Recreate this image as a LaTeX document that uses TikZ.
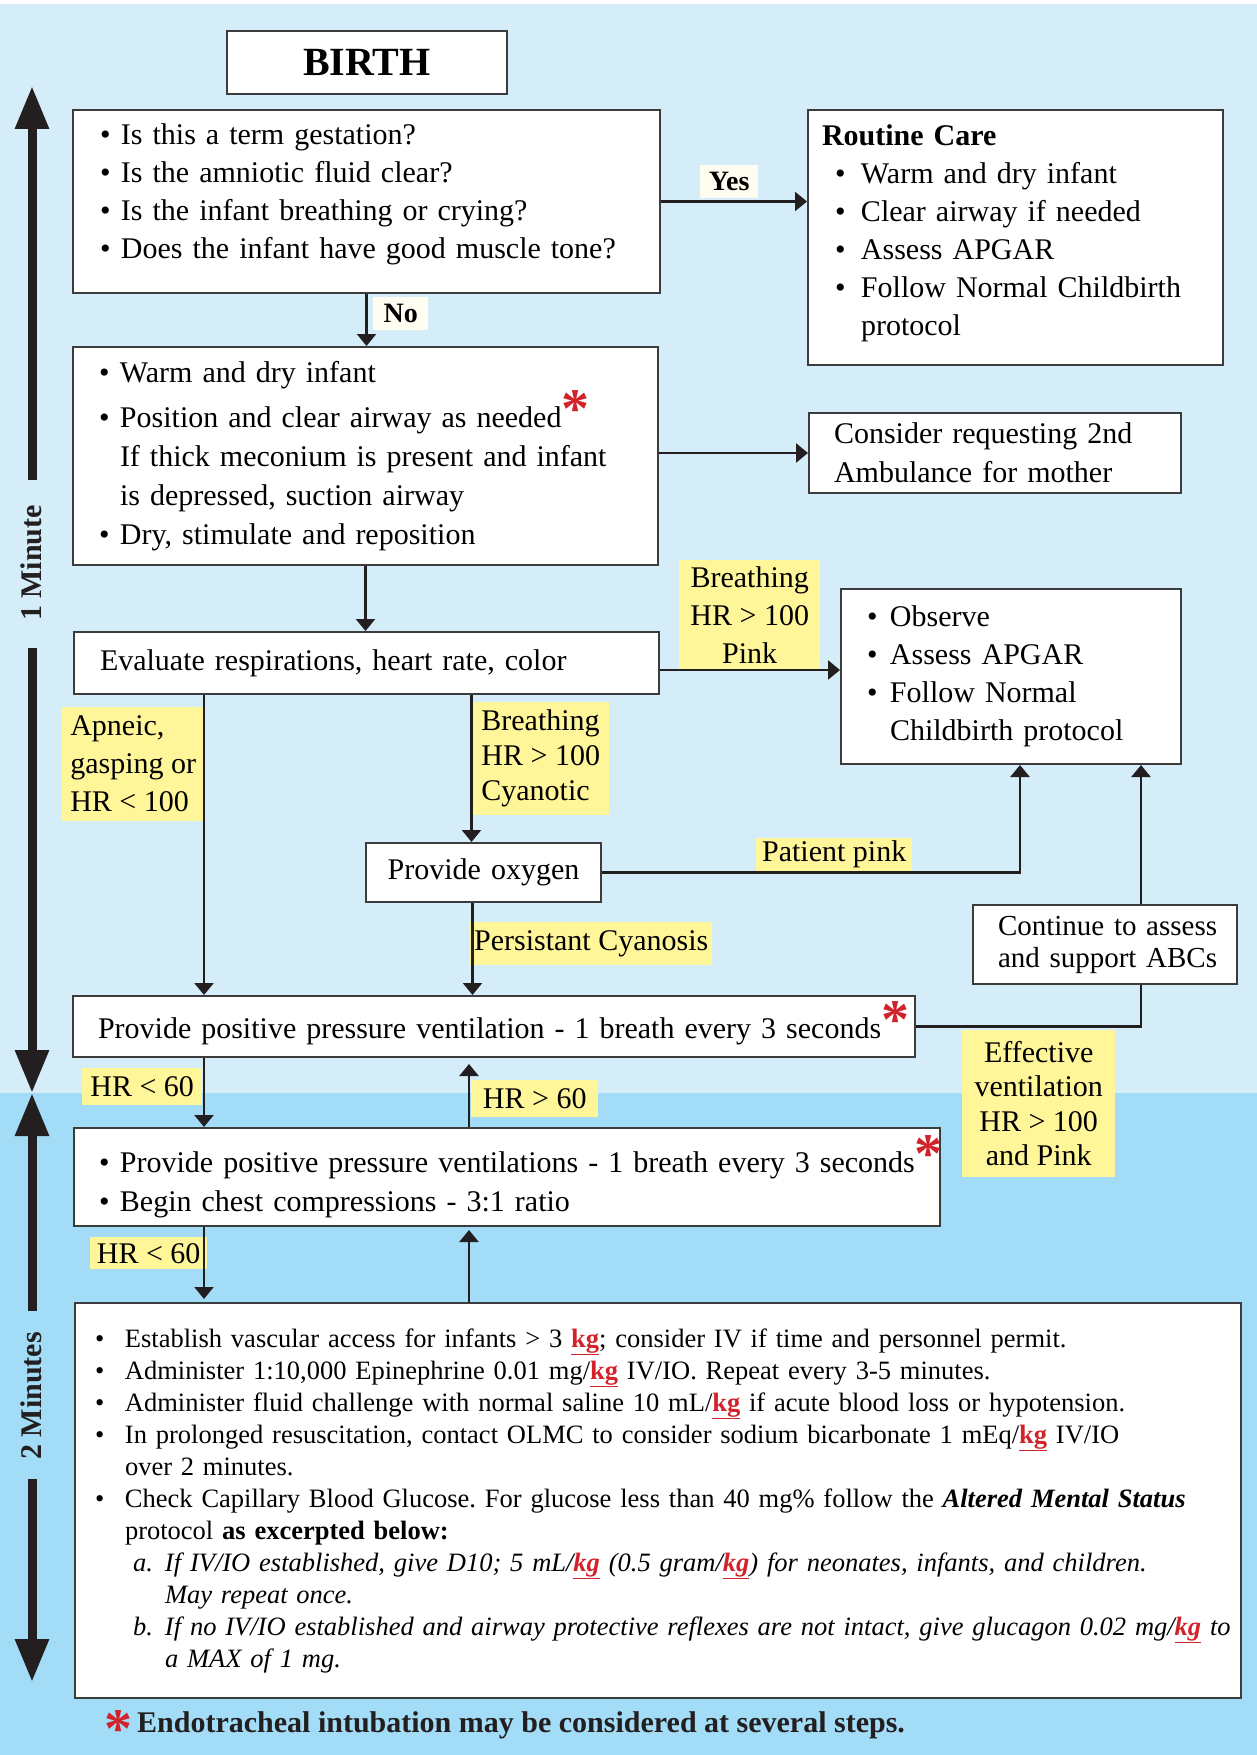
\documentclass[tikz,border=0pt]{standalone}
\usepackage{fontspec}
\setmainfont{Liberation Serif}
\usetikzlibrary{arrows.meta}
\frenchspacing

\definecolor{bgtop}{HTML}{D5ECF9}
\definecolor{bgbot}{HTML}{A2DCF6}
\definecolor{hilite}{HTML}{FFF599}
\definecolor{cream}{HTML}{FFFCF0}
\definecolor{starred}{HTML}{D2232A}
\definecolor{ink}{HTML}{231F20}
\definecolor{boxgray}{HTML}{3C3C3C}

\newcommand{\fs}[2]{\fontsize{#1}{#2}\selectfont}
\newcommand{\bul}[1][20pt]{\makebox[#1][l]{\textbullet}}
\newcommand{\redstar}[1][0pt]{\textcolor{starred}{\raisebox{#1}{\fs{56}{56}\bfseries *}}}
\newcommand{\kg}{\textcolor{starred}{\underline{\textbf{kg}}}}
\newcommand{\lift}[1]{\rule[-#1]{0pt}{#1}}

\begin{document}
\begin{tikzpicture}[x=1pt, y=-1pt,
    box/.style={draw=boxgray, line width=2pt, fill=white, anchor=north west,
        inner ysep=0pt, align=left, font=\fs{30}{38}},
    lbl/.style={fill=hilite, anchor=north west, inner sep=0pt, font=\fs{30}{38}},
    wire/.style={draw=ink, line width=2.4pt},
    conn/.style={wire, -{Triangle[length=12pt,width=19pt]}},
    tline/.style={draw=ink, line width=9pt, -{Triangle[length=43pt,width=32pt]}}]

    \useasboundingbox (0,0) rectangle (1257,1755);
    % background
    \fill[white] (0,0) rectangle (1257,1755);
    \fill[bgtop] (0,4) rectangle (1257,1093);
    \fill[bgbot] (0,1093) rectangle (1257,1755);

    % time line on the left
    \node[rotate=90, font=\bfseries\fs{30}{30}, text=ink] (min1) at (31,563) {1 Minute};
    \node[rotate=90, font=\bfseries\fs{30}{30}, text=ink] (min2) at (31,1396) {2 Minutes};
    \draw[tline] (32,480) -- (32,86);
    \draw[tline] (32,648) -- (32,1093);
    \draw[tline] (32,1311) -- (32,1093);
    \draw[tline] (32,1479) -- (32,1682);

    % boxes
    \node[box, font=\bfseries\fs{40}{40}, align=center, inner xsep=0pt, text width=280pt,
        minimum height=63pt] (birth) at (226,30) {BIRTH};

    \node[box, inner xsep=27pt, text width=533pt, minimum height=183pt] (quest) at (72,109)
        {\bul[21pt]Is this a term gestation?\\
         \bul[21pt]Is the amniotic fluid clear?\\
         \bul[21pt]Is the infant breathing or crying?\\
         \bul[21pt]Does the infant have good muscle tone?\lift{21pt}};

    \node[box, inner xsep=14pt, text width=387pt, minimum height=255pt] (routine) at (807,109)
        {\textbf{Routine Care}\\
         \hspace*{13pt}\bul[26pt]Warm and dry infant\\
         \hspace*{13pt}\bul[26pt]Clear airway if needed\\
         \hspace*{13pt}\bul[26pt]Assess APGAR\\
         \hspace*{13pt}\bul[26pt]Follow Normal Childbirth\\
         \hspace*{39pt}protocol\lift{14pt}};

    \node[box, font=\fs{30}{39}, inner xsep=26pt, text width=533pt, minimum height=218pt] (warm) at (72,346)
        {\bul[21pt]Warm and dry infant\\
         \bul[21pt]Position and clear airway as needed\redstar\\
         \hspace*{21pt}If thick meconium is present and infant\\
         \hspace*{21pt}is depressed, suction airway\\
         \bul[21pt]Dry, stimulate and reposition};

    \node[box, font=\fs{30}{39}, inner xsep=25pt, text width=322pt, minimum height=80pt] (consider) at (808,412)
        {Consider requesting 2nd\\ Ambulance for mother};

    \node[box, inner xsep=26pt, text width=533pt, minimum height=62pt] (eval) at (73,631)
        {Evaluate respirations, heart rate, color};

    \node[box, inner xsep=26pt, text width=288pt, minimum height=175pt] (observe) at (840,588)
        {\bul[23pt]Observe\\
         \bul[23pt]Assess APGAR\\
         \bul[23pt]Follow Normal\\
         \hspace*{23pt}Childbirth protocol};

    \node[box, align=center, inner xsep=0pt, text width=235pt, minimum height=59pt] (oxygen) at (365,842)
        {Provide oxygen};

    \node[box, font=\fs{29}{32}, inner xsep=11pt, text width=242pt, minimum height=79pt] (cont) at (972,904)
        {\hspace*{14pt}Continue to assess\\ \hspace*{14pt}and support ABCs};

    \node[box, inner xsep=25pt, text width=792pt, minimum height=61pt] (ppv) at (72,995)
        {\mbox{Provide positive pressure ventilation - 1 breath every 3 seconds\redstar}\lift{13pt}};

    \node[box, font=\fs{30}{39}, inner xsep=25pt, text width=816pt, minimum height=98pt] (cpr) at (73,1127)
        {\mbox{\bul[21pt]Provide positive pressure ventilations - 1 breath every 3 seconds\redstar}\\
         \bul[21pt]Begin chest compressions - 3:1 ratio};

    \node[box, font=\fs{26.5}{32}, inner xsep=20pt, text width=1126pt, minimum height=395pt] (drugs) at (74,1302)
        {\mbox{\bul[30pt]Establish vascular access for infants > 3 \kg; consider IV if time and personnel permit.}\\
         \mbox{\bul[30pt]Administer 1:10,000 Epinephrine 0.01 mg/\kg{} IV/IO. Repeat every 3-5 minutes.}\\
         \mbox{\bul[30pt]Administer fluid challenge with normal saline 10 mL/\kg{} if acute blood loss or hypotension.}\\
         \mbox{\bul[30pt]In prolonged resuscitation, contact OLMC to consider sodium bicarbonate 1 mEq/\kg{} IV/IO}\\
         \hspace*{30pt}over 2 minutes.\\
         \mbox{\bul[30pt]Check Capillary Blood Glucose. For glucose less than 40 mg\% follow the \textbf{\textit{Altered Mental Status}}}\\
         \hspace*{30pt}protocol \textbf{as excerpted below:}\\
         \mbox{\hspace*{38pt}\makebox[32pt][l]{\textit{a.}}\textit{If IV/IO established, give D10; 5 mL/\kg{} (0.5 gram/\kg) for neonates, infants, and children.}}\\
         \hspace*{70pt}\textit{May repeat once.}\\
         \mbox{\hspace*{38pt}\makebox[32pt][l]{\textit{b.}}\textit{If no IV/IO established and airway protective reflexes are not intact, give glucagon 0.02 mg/\kg{} to}}\\
         \hspace*{70pt}\textit{a MAX of 1 mg.}};

    \node[anchor=base west, inner sep=0pt, font=\bfseries\fs{30}{30}, text=ink] (note) at (104,1732)
        {\redstar[-15pt]\,Endotracheal intubation may be considered at several steps.};

    % labels on the connectors
    \node[lbl, fill=cream, font=\bfseries\fs{28}{28}, minimum width=58pt, minimum height=33pt] (yes) at (700,165) {Yes};
    \node[lbl, fill=cream, font=\bfseries\fs{28}{28}, minimum width=55pt, minimum height=33pt] (no) at (373,297) {No};
    \node[lbl, align=center, minimum width=141pt, minimum height=109pt] (lpink) at (679,560) {Breathing\\ HR > 100\\ Pink};
    \node[lbl, align=left, minimum width=142pt, minimum height=114pt] (lapneic) at (62,707) {Apneic,\\ gasping or\\ HR < 100};
    \node[lbl, align=left, font=\fs{30}{35}, minimum width=137pt, minimum height=113pt] (lcyan) at (472,702) {Breathing\\ HR > 100\\ Cyanotic};
    \node[lbl, minimum width=242pt, minimum height=43pt] (lpers) at (470,922) {Persistant Cyanosis};
    \node[lbl, minimum width=156pt, minimum height=33pt] (lppink) at (756,838) {Patient pink};
    \node[lbl, align=center, font=\fs{30}{34.5}, minimum width=153pt, minimum height=147pt] (leff) at (962,1030)
        {Effective\\ ventilation\\ HR > 100\\ and Pink};
    \node[lbl, minimum width=120pt, minimum height=37pt] (lslowa) at (82,1068) {HR < 60};
    \node[lbl, minimum width=127pt, minimum height=37pt] (lfast) at (471,1080) {HR > 60};
    \node[lbl, minimum width=117pt, minimum height=32pt] (lslowb) at (90,1237) {HR < 60};

    % connectors
    \coordinate (evalout) at ([yshift=-7pt]eval.east);
    \coordinate (apnx) at ([xshift=131pt]eval.south west);
    \coordinate (cyx) at ([xshift=-12pt]oxygen.north);
    \coordinate (persx) at ([xshift=-11pt]oxygen.south);
    \coordinate (pinkx) at ([xshift=9pt]observe.south);
    \coordinate (effx) at ([xshift=36pt]cont.south);
    \coordinate (slowx) at ([xshift=132pt]ppv.south west);
    \coordinate (upx) at ([xshift=396pt]cpr.north west);

    \draw[conn] (quest.east) -- (quest.east -| routine.west);
    \draw[conn] (quest.south) -- (quest.south |- warm.north);
    \draw[conn] (warm.east |- consider.west) -- (consider.west);
    \draw[conn] (warm.south) -- (warm.south |- eval.north);
    \draw[conn] (evalout) -- (evalout -| observe.west);
    \draw[conn] (apnx) -- (apnx |- ppv.north);
    \draw[conn] (cyx |- eval.south) -- (cyx);
    \draw[conn] (persx) -- (persx |- ppv.north);
    \draw[conn] (oxygen.east) -| (pinkx);
    \draw[wire] (ppv.east) -| (effx);
    \draw[conn] (effx |- cont.north) -- (effx |- observe.south);
    \draw[conn] (slowx) -- (slowx |- cpr.north);
    \draw[conn, shorten >=6pt] (upx) -- (upx |- ppv.south);
    \draw[conn, shorten >=3pt] (slowx |- cpr.south) -- (slowx |- drugs.north);
    \draw[conn, shorten >=3pt] (upx |- drugs.north) -- (upx |- cpr.south);
\end{tikzpicture}
\end{document}
